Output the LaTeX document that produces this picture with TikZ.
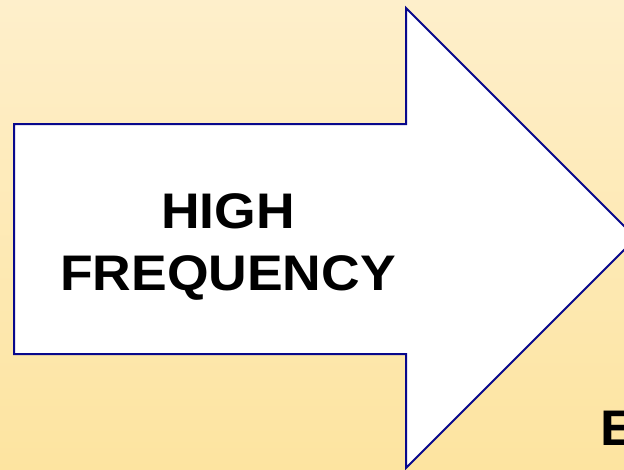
\documentclass[tikz,border=0pt]{standalone}
\usepackage{fontspec}
\setmainfont{Liberation Sans}
\usetikzlibrary{calc}
\begin{document}
\begin{tikzpicture}[x=1pt, y=-1pt,
  outline/.style={draw=arrowblue, fill=white, line width=2pt, line join=miter},
  bigtext/.style={font=\fontsize{50}{62}\selectfont\bfseries, align=center, inner sep=0pt, text=black, xscale=1.07}]
\definecolor{bgtop}{RGB}{254,239,203}\definecolor{bgbot}{RGB}{253,228,160}\definecolor{arrowblue}{RGB}{8,8,140}
% slide background
\useasboundingbox (0,0) rectangle (624,469);
\clip (0,0) rectangle (624,469);
\shade[top color=bgtop, bottom color=bgbot] (0,0) rectangle (624,469);
% block arrow
\coordinate (tailtop) at (14,124);
\coordinate (tailbot) at (14,354);
\coordinate (headtop) at (406,8);
\coordinate (headbot) at (406,468);
\coordinate (tip) at (636,238);
\draw[outline] (tailtop) -- (406,124) -- (headtop) -- (tip) -- (headbot) -- (406,354) -- (tailbot) -- cycle;
\node[bigtext, anchor=base] (label) at (228,290) {HIGH\\FREQUENCY};
% next word, cut off at the edge
\node[bigtext, anchor=base west] (next) at (600,445) {E};
\end{tikzpicture}
\end{document}
